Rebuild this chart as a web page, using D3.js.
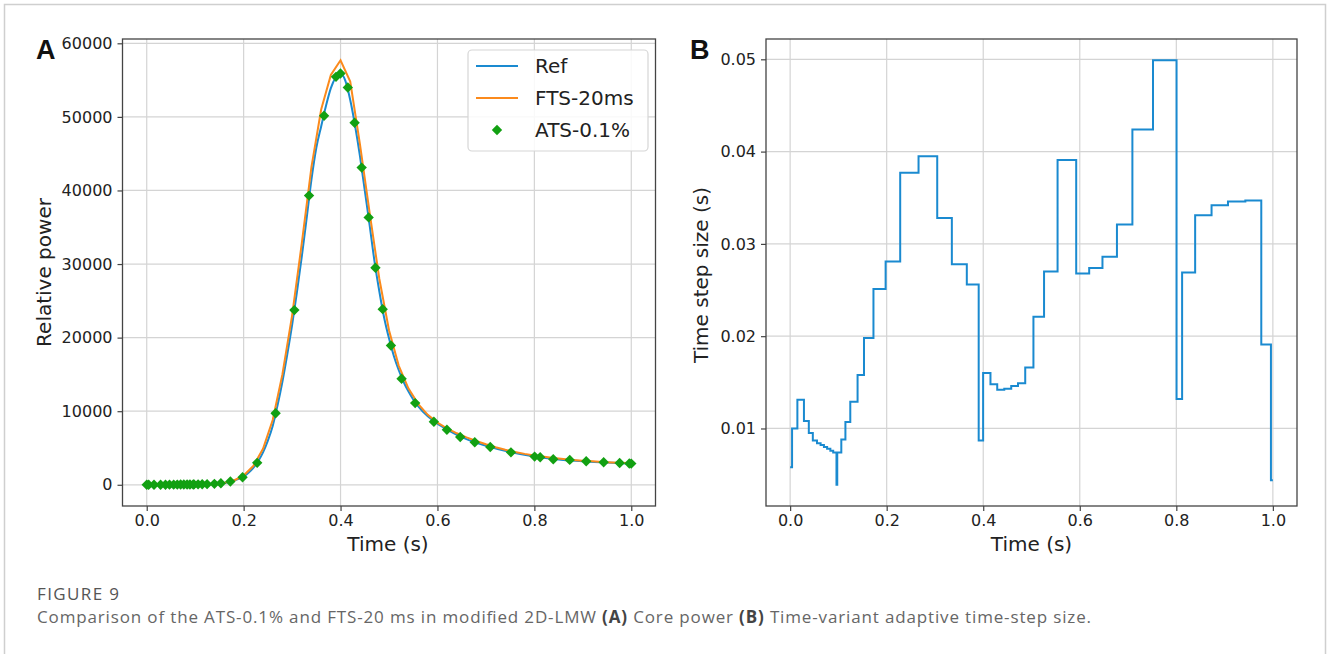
<!DOCTYPE html>
<html>
<head>
<meta charset="utf-8">
<script src="https://cdn.jsdelivr.net/npm/d3@7"></script>
<style>
  html, body { margin: 0; padding: 0; background: #fff; }
  svg { display: block; }
  .tick text { font-family: "DejaVu Sans", sans-serif; font-size: 16px; fill: #222; }
</style>
</head>
<body>
<svg id="fig" width="1328" height="654"></svg>
<script>
// ---- shared tick values ----
const timeTicks = [0, 0.2, 0.4, 0.6, 0.8, 1.0];
const powerTicks = [0, 10000, 20000, 30000, 40000, 50000, 60000];
const stepTicks = [0.01, 0.02, 0.03, 0.04, 0.05];

// ---- reference solution (fine time mesh) ----
const refTime = [0, 0.02, 0.04, 0.06, 0.08, 0.10, 0.12, 0.14, 0.15, 0.16, 0.17, 0.18, 0.19, 0.20,
  0.21, 0.22, 0.23, 0.24, 0.25, 0.26, 0.27, 0.28, 0.29, 0.30, 0.31, 0.32, 0.33, 0.34, 0.35, 0.36,
  0.37, 0.38, 0.39, 0.40, 0.41, 0.42, 0.43, 0.44, 0.45, 0.46, 0.47, 0.48, 0.49, 0.50, 0.51, 0.52,
  0.53, 0.54, 0.55, 0.56, 0.58, 0.60, 0.62, 0.64, 0.66, 0.68, 0.70, 0.75, 0.80, 0.85, 0.90, 0.95, 1.0];
const refPower = [1, 5, 13, 23, 36, 54, 80, 125, 165, 240, 370, 560, 800, 1130,
  1620, 2300, 3200, 4400, 6000, 8000, 10800, 14000, 17700, 21700, 26200, 31000, 36200, 41500, 45800, 48700,
  51500, 53900, 55350, 55850, 54900, 52300, 48800, 44700, 40000, 35300, 30400, 26300, 22700, 19900, 17500, 15600,
  14000, 12700, 11600, 10700, 9300, 8300, 7500, 6800, 6200, 5700, 5300, 4450, 3850, 3450, 3200, 3030, 2870];

// ---- fixed time step, 20 ms ----
const ftsTime = [0.00, 0.02, 0.04, 0.06, 0.08, 0.10, 0.12, 0.14, 0.16, 0.18, 0.20, 0.22, 0.24, 0.26,
  0.28, 0.30, 0.32, 0.34, 0.36, 0.38, 0.40, 0.42, 0.44, 0.46, 0.48, 0.50, 0.52, 0.54, 0.56, 0.58,
  0.60, 0.62, 0.64, 0.66, 0.68, 0.70, 0.72, 0.74, 0.76, 0.78, 0.80, 0.82, 0.84, 0.86, 0.88, 0.90,
  0.92, 0.94, 0.96, 0.98, 1.00];
const ftsPower = [1, 5, 14, 25, 38, 58, 86, 135, 260, 590, 1250, 2550, 4900, 8800,
  15000, 23000, 32800, 43200, 51000, 55700, 57700, 54800, 46300, 37000, 28000, 21000, 16200, 13100, 11000, 9500,
  8450, 7650, 7000, 6450, 5950, 5500, 5100, 4750, 4450, 4200, 3980, 3800, 3640, 3500, 3380, 3280,
  3190, 3110, 3040, 2980, 2920];

// ---- adaptive time step, 0.1 % tolerance ----
const atsTime = [0, 0.004, 0.015, 0.0286, 0.0387, 0.047, 0.0556, 0.0631, 0.07, 0.0766, 0.0833, 0.0892,
  0.096, 0.0976, 0.106, 0.1145, 0.1246, 0.1397, 0.153, 0.1726, 0.1978, 0.228, 0.266, 0.3047, 0.335,
  0.366, 0.3906, 0.3998, 0.415, 0.429, 0.4436, 0.458, 0.472, 0.487, 0.504, 0.526, 0.554, 0.5926,
  0.6195, 0.647, 0.677, 0.709, 0.7517, 0.8005, 0.812, 0.839, 0.873, 0.907, 0.943, 0.976, 0.996, 1.0];
const atsPower = [1, 2, 5, 9, 13, 17, 21, 25, 29, 33, 38, 42,
  48, 50, 58, 70, 88, 125, 200, 440, 1030, 2980, 9730, 23740, 39300,
  50160, 55440, 55890, 54000, 49210, 43110, 36340, 29500, 23870, 18920, 14410, 11100, 8560,
  7480, 6490, 5770, 5130, 4410, 3830, 3740, 3470, 3380, 3200, 3060, 2970, 2900, 2880];
// step size taken from each ATS time point to the next
const atsStep = [0.0058, 0.0100, 0.0131, 0.0108, 0.0095, 0.0087, 0.0084, 0.0082, 0.0080, 0.0078, 0.0076, 0.0074,
  0.0039, 0.0074, 0.0088, 0.0107, 0.0129, 0.0158, 0.0198, 0.0251, 0.0281, 0.0377, 0.0395, 0.0328, 0.0278,
  0.0256, 0.0087, 0.0160, 0.0148, 0.0142, 0.0143, 0.0146, 0.0149, 0.0166, 0.0221, 0.0270, 0.0391, 0.0268,
  0.0274, 0.0286, 0.0321, 0.0424, 0.0499, 0.0132, 0.0269, 0.0331, 0.0342, 0.0346, 0.0347, 0.0191, 0.0044];

const seriesNames = ["Ref", "FTS-20ms", "ATS-0.1%"];
const COLORS = { ref: "#1a8ad0", fts: "#fb8a1c", ats: "#12a012" };
const FONT = '"DejaVu Sans", sans-serif';

const svg = d3.select("#fig");

// outer figure frame
svg.append("rect").attr("x", 4.5).attr("y", 4.5).attr("width", 1321).attr("height", 680)
  .attr("fill", "#fff").attr("stroke", "#cfcfcf").attr("stroke-width", 1.5);

// matplotlib-like auto limits: data extent padded by 5 %
function padded(ext) {
  const m = (ext[1] - ext[0]) * 0.05;
  return [ext[0] - m, ext[1] + m];
}

function panel(box, xDomain, yDomain, yTicks, yFmt) {
  const x = d3.scaleLinear().domain(xDomain).range([box.left, box.right]);
  const y = d3.scaleLinear().domain(yDomain).range([box.bottom, box.top]);
  const g = svg.append("g");
  // grid
  g.append("g").selectAll("line").data(timeTicks).join("line")
    .attr("x1", d => x(d)).attr("x2", d => x(d)).attr("y1", box.top).attr("y2", box.bottom)
    .attr("stroke", "#d4d4d4").attr("stroke-width", 1.2);
  g.append("g").selectAll("line").data(yTicks).join("line")
    .attr("x1", box.left).attr("x2", box.right).attr("y1", d => y(d)).attr("y2", d => y(d))
    .attr("stroke", "#d4d4d4").attr("stroke-width", 1.2);
  // axes
  const ax = g.append("g").attr("transform", `translate(0,${box.bottom})`)
    .call(d3.axisBottom(x).tickValues(timeTicks).tickFormat(d3.format(".1f")).tickSize(5).tickPadding(4));
  const ay = g.append("g").attr("transform", `translate(${box.left},0)`)
    .call(d3.axisLeft(y).tickValues(yTicks).tickFormat(yFmt).tickSize(5).tickPadding(5));
  [ax, ay].forEach(a => {
    a.select(".domain").remove();
    a.selectAll(".tick line").attr("stroke", "#444").attr("stroke-width", 1.2);
  });
  const plot = svg.append("g");
  // frame drawn last
  const frame = () => svg.append("rect")
    .attr("x", box.left).attr("y", box.top)
    .attr("width", box.right - box.left).attr("height", box.bottom - box.top)
    .attr("fill", "none").attr("stroke", "#444").attr("stroke-width", 1.3);
  return { x, y, plot, frame };
}

// ===== Panel A : relative power =====
const allPower = refPower.concat(ftsPower, atsPower);
const A = panel({ left: 122.5, right: 655.5, top: 39, bottom: 506 },
  padded([0, 1]), padded(d3.extent(allPower)), powerTicks, d3.format("d"));

const refPts = refTime.map((t, i) => [t, refPower[i]]);
const ftsPts = ftsTime.map((t, i) => [t, ftsPower[i]]);
const atsPts = atsTime.map((t, i) => [t, atsPower[i]]);

A.plot.append("path").datum(refPts)
  .attr("d", d3.line().x(d => A.x(d[0])).y(d => A.y(d[1])).curve(d3.curveMonotoneX))
  .attr("fill", "none").attr("stroke", COLORS.ref).attr("stroke-width", 2);
A.plot.append("path").datum(ftsPts)
  .attr("d", d3.line().x(d => A.x(d[0])).y(d => A.y(d[1])))
  .attr("fill", "none").attr("stroke", COLORS.fts).attr("stroke-width", 2);

const diamond = r => `M0,${-r}L${r},0L0,${r}L${-r},0Z`;
A.plot.append("g").selectAll("path").data(atsPts).join("path")
  .attr("transform", d => `translate(${A.x(d[0])},${A.y(d[1])})`)
  .attr("d", diamond(5.2)).attr("fill", COLORS.ats);
A.frame();

// legend
const lg = svg.append("g");
lg.append("rect").attr("x", 468).attr("y", 50).attr("width", 180).attr("height", 101).attr("rx", 4)
  .attr("fill", "#fff").attr("fill-opacity", 0.85).attr("stroke", "#d6d6d6").attr("stroke-width", 1.2);
const legY = [66, 98, 130];
lg.append("line").attr("x1", 476).attr("x2", 518).attr("y1", legY[0]).attr("y2", legY[0])
  .attr("stroke", COLORS.ref).attr("stroke-width", 2);
lg.append("line").attr("x1", 476).attr("x2", 518).attr("y1", legY[1]).attr("y2", legY[1])
  .attr("stroke", COLORS.fts).attr("stroke-width", 2);
lg.append("path").attr("transform", `translate(497,${legY[2]})`).attr("d", diamond(5.2)).attr("fill", COLORS.ats);
lg.selectAll("text").data(seriesNames).join("text")
  .attr("x", 535).attr("y", (d, i) => legY[i] + 7.3)
  .attr("font-family", FONT).attr("font-size", 20).attr("fill", "#222").text(d => d);

// ===== Panel B : adaptive step size =====
const B = panel({ left: 766, right: 1297, top: 39, bottom: 506 },
  padded([0, 1]), padded(d3.extent(atsStep)), stepTicks, d3.format(".2f"));
// each step size holds from its time point until the next one
const stepPts = atsStep.map((s, i) => [atsTime[i], s]);
stepPts.push([atsTime[atsTime.length - 1], atsStep[atsStep.length - 1]]);
B.plot.append("path").datum(stepPts)
  .attr("d", d3.line().x(d => B.x(d[0])).y(d => B.y(d[1])).curve(d3.curveStepAfter))
  .attr("fill", "none").attr("stroke", COLORS.ref).attr("stroke-width", 2);
B.frame();

// ===== axis titles and panel letters =====
function label(x, y, txt, rot) {
  svg.append("text").attr("transform", `translate(${x},${y})` + (rot ? " rotate(-90)" : ""))
    .attr("text-anchor", "middle").attr("font-family", FONT).attr("font-size", 20).attr("fill", "#222")
    .text(txt);
}
label(388, 551, "Time (s)");
label(1031.5, 551, "Time (s)");
label(51, 272.5, "Relative power", true);
label(708, 275, "Time step size (s)", true);

svg.append("text").attr("x", 36).attr("y", 59).attr("font-family", '"Liberation Sans", Arial, sans-serif')
  .attr("font-weight", "bold").attr("font-size", 27).attr("fill", "#111").text("A");
svg.append("text").attr("x", 690).attr("y", 59).attr("font-family", '"Liberation Sans", Arial, sans-serif')
  .attr("font-weight", "bold").attr("font-size", 27).attr("fill", "#111").text("B");

// ===== caption =====
const CAP = '"Open Sans", "Noto Sans", sans-serif';
svg.append("text").attr("x", 37).attr("y", 600).attr("font-family", CAP).attr("font-size", 17)
  .attr("fill", "#555").attr("textLength", 82).attr("lengthAdjust", "spacing").text("FIGURE 9");
const cap = svg.append("text").attr("x", 37).attr("y", 623).attr("font-family", CAP).attr("font-size", 17)
  .attr("fill", "#666").attr("textLength", 1054).attr("lengthAdjust", "spacing");
[["Comparison of the ATS-0.1% and FTS-20 ms in modified 2D-LMW ", false], ["(A)", true],
 [" Core power ", false], ["(B)", true], [" Time-variant adaptive time-step size.", false]]
  .forEach(([t, b]) => cap.append("tspan").attr("font-weight", b ? "bold" : "normal")
    .attr("fill", b ? "#444" : "#666").text(t));
</script>
</body>
</html>
